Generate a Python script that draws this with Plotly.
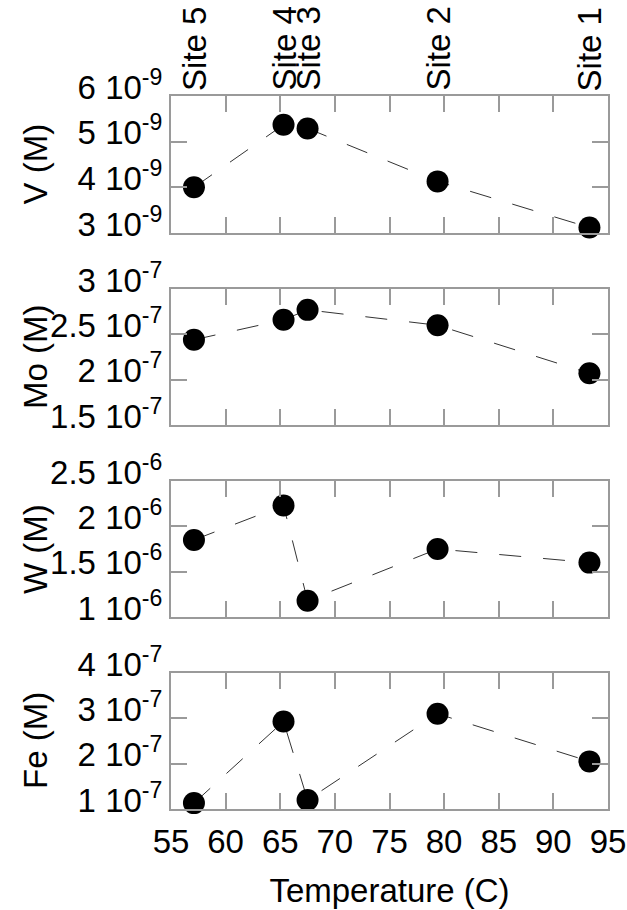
import plotly.graph_objects as go

# ---- data ----
sites = ["Site 5", "Site 4", "Site 3", "Site 2", "Site 1"]
temps = [57.1, 65.3, 67.5, 79.4, 93.3]
V = [4.0e-9, 5.37e-9, 5.29e-9, 4.13e-9, 3.12e-9]
Mo = [2.44e-7, 2.66e-7, 2.77e-7, 2.60e-7, 2.07e-7]
W = [1.85e-6, 2.23e-6, 1.18e-6, 1.75e-6, 1.60e-6]
Fe = [1.13e-7, 2.93e-7, 1.20e-7, 3.10e-7, 2.05e-7]

x_ticks = [55, 60, 65, 70, 75, 80, 85, 90, 95]

V_ticks = [3e-9, 4e-9, 5e-9, 6e-9]
V_text = ["3 10<sup>-9</sup>", "4 10<sup>-9</sup>", "5 10<sup>-9</sup>", "6 10<sup>-9</sup>"]
Mo_ticks = [1.5e-7, 2e-7, 2.5e-7, 3e-7]
Mo_text = ["1.5 10<sup>-7</sup>", "2 10<sup>-7</sup>", "2.5 10<sup>-7</sup>", "3 10<sup>-7</sup>"]
W_ticks = [1e-6, 1.5e-6, 2e-6, 2.5e-6]
W_text = ["1 10<sup>-6</sup>", "1.5 10<sup>-6</sup>", "2 10<sup>-6</sup>", "2.5 10<sup>-6</sup>"]
Fe_ticks = [1e-7, 2e-7, 3e-7, 4e-7]
Fe_text = ["1 10<sup>-7</sup>", "2 10<sup>-7</sup>", "3 10<sup>-7</sup>", "4 10<sup>-7</sup>"]

panels = [
    ("V (M)", V, V_ticks, V_text),
    ("Mo (M)", Mo, Mo_ticks, Mo_text),
    ("W (M)", W, W_ticks, W_text),
    ("Fe (M)", Fe, Fe_ticks, Fe_text),
]

# ---- layout geometry (pixels) ----
W_PX, H_PX = 627, 910
ML, MR, MT, MB = 171, 19, 96, 101
PH = H_PX - MT - MB
panel_px = [(96, 233), (289, 425), (481, 617), (673, 809)]

FONT = "Liberation Sans, Arial, sans-serif"
FS = 33
AX = "#9a9a9a"

fig = go.Figure()
layout = dict(
    width=W_PX, height=H_PX, autosize=False,
    margin=dict(l=ML, r=MR, t=MT, b=MB, autoexpand=False),
    paper_bgcolor="white", plot_bgcolor="white",
    showlegend=False,
    font=dict(family=FONT, size=FS, color="black"),
)
annotations = []

for i, (title, vals, tv, tt) in enumerate(panels):
    n = i + 1
    xa = "x" if n == 1 else f"x{n}"
    ya = "y" if n == 1 else f"y{n}"
    fig.add_trace(go.Scatter(
        x=temps, y=vals, xaxis=xa, yaxis=ya,
        mode="lines+markers",
        line=dict(color="#333333", width=1, dash="22px,22px"),
        marker=dict(size=22, color="black"),
        cliponaxis=False,
    ))
    top, bot = panel_px[i]
    dom = [(H_PX - MB - bot) / PH, (H_PX - MB - top) / PH]
    xkey = "xaxis" if n == 1 else f"xaxis{n}"
    ykey = "yaxis" if n == 1 else f"yaxis{n}"
    layout[xkey] = dict(
        domain=[0, 1], anchor=ya, range=[55, 95], automargin=False,
        tickvals=x_ticks, ticks="inside", ticklen=16, tickcolor=AX, tickwidth=1.5,
        showline=True, linecolor=AX, linewidth=2, mirror="ticks",
        showgrid=False, zeroline=False,
        showticklabels=(n == 4),
        tickfont=dict(size=FS),
        ticklabelstandoff=2,
    )
    layout[ykey] = dict(
        domain=dom, anchor=xa, range=[tv[0], tv[-1]], automargin=False,
        tickvals=tv, ticktext=tt, ticks="inside", ticklen=16, tickcolor=AX, tickwidth=1.5,
        showline=True, linecolor=AX, linewidth=2, mirror="ticks",
        showgrid=False, zeroline=False,
        tickfont=dict(size=FS),
        ticklabelshift=-9,
    )
    if n == 4:
        layout[xkey]["title"] = dict(text="Temperature (C)", font=dict(size=FS), standoff=20)
    annotations.append(dict(
        text=title, textangle=-90, xref="paper", yref="paper",
        x=(35 - ML) / (W_PX - ML - MR), y=(dom[0] + dom[1]) / 2,
        xanchor="center", yanchor="middle", showarrow=False,
        font=dict(size=FS),
    ))

# Site labels along the top
for s, t in zip(sites, temps):
    annotations.append(dict(
        text=s, textangle=-90, xref="x", yref="paper",
        x=t, y=1.0, yshift=3, xanchor="center", yanchor="bottom",
        showarrow=False, font=dict(size=FS),
    ))

layout["annotations"] = annotations
fig.update_layout(**layout)
fig.write_html("out.html")
